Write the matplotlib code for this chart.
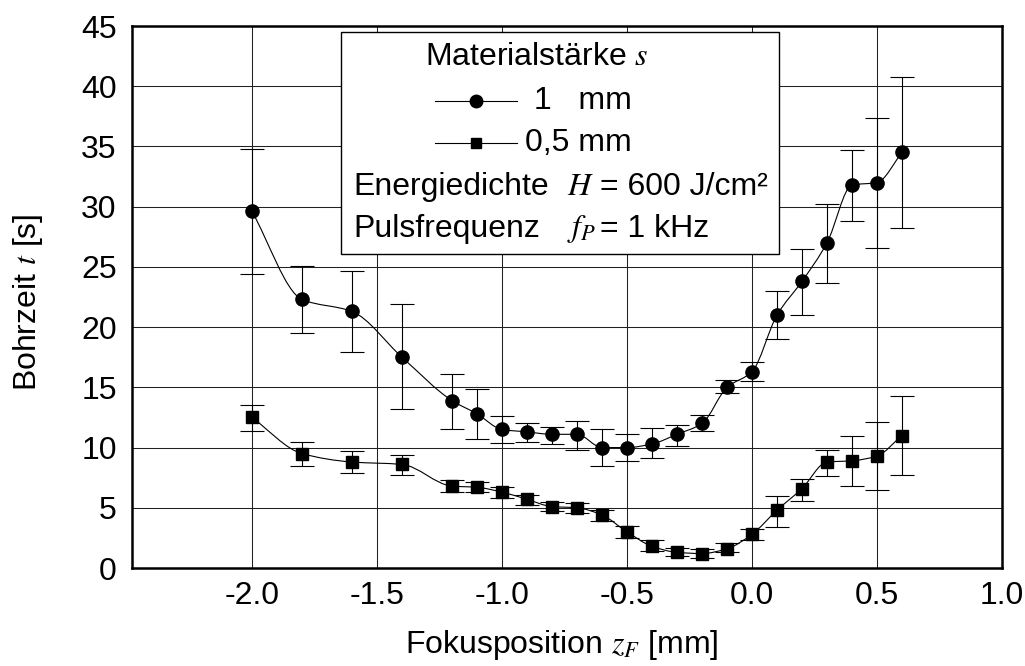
import matplotlib.pyplot as plt
import numpy as np
from matplotlib.lines import Line2D
from matplotlib.patches import PathPatch, Rectangle
from matplotlib.path import Path

plt.rcParams["font.family"] = ["Liberation Sans", "DejaVu Sans"]
plt.rcParams["mathtext.fontset"] = "stix"
plt.rcParams["axes.unicode_minus"] = False

# Focus position z_F [mm]
focus_pos = [-2.0, -1.8, -1.6, -1.4, -1.2, -1.1, -1.0, -0.9, -0.8, -0.7, -0.6, -0.5,
             -0.4, -0.3, -0.2, -0.1, 0.0, 0.1, 0.2, 0.3, 0.4, 0.5, 0.6]

# Drilling time t [s], 1 mm sheet, with upper / lower error bar ends.
t_1mm = [29.6, 22.3, 21.3, 17.5, 13.9, 12.8, 11.5, 11.3, 11.1, 11.1, 10.0, 10.0,
         10.3, 11.1, 12.0, 15.0, 16.3, 21.0, 23.8, 27.0, 31.8, 32.0, 34.5]
t_1mm_hi = [34.8, 25.1, 24.7, 21.9, 16.1, 14.9, 12.6, 12.0, 11.7, 12.2, 11.5, 11.1,
            11.6, 11.9, 12.7, 15.6, 17.1, 23.0, 26.5, 30.2, 34.7, 37.4, 40.8]
t_1mm_lo = [24.4, 19.5, 17.9, 13.2, 11.5, 10.7, 10.4, 10.5, 10.3, 9.8, 8.5, 8.9,
            9.1, 10.1, 11.4, 14.5, 15.5, 19.0, 21.0, 23.7, 28.8, 26.6, 28.2]

# Drilling time t [s], 0.5 mm sheet.
t_05mm = [12.5, 9.5, 8.8, 8.6, 6.8, 6.7, 6.3, 5.7, 5.1, 5.0, 4.4, 3.0,
          1.8, 1.3, 1.2, 1.6, 2.8, 4.8, 6.6, 8.8, 8.9, 9.3, 11.0]
t_05mm_hi = [13.5, 10.5, 9.7, 9.4, 7.3, 7.1, 6.7, 6.1, 5.5, 5.4, 4.8, 3.5,
             2.3, 1.7, 1.6, 2.1, 3.2, 6.0, 7.4, 9.8, 11.0, 12.1, 14.3]
t_05mm_lo = [11.4, 8.5, 7.9, 7.7, 6.3, 6.3, 5.8, 5.2, 4.7, 4.6, 3.9, 2.5,
             1.4, 1.0, 0.8, 1.3, 2.3, 3.4, 5.6, 7.6, 6.8, 6.5, 7.7]

x_ticks = [-2.0, -1.5, -1.0, -0.5, 0.0, 0.5, 1.0]
y_ticks = [0, 5, 10, 15, 20, 25, 30, 35, 40, 45]

# Figure size in pixels, positions below are given in pixels from top left.
W, H = 1025, 666
FS = 23


def fx(px):
    return px / W


def fy(py):
    return 1 - py / H


def smooth_path(x, y):
    # Smoothed line through the points: cubic Bezier segments with monotone
    # (Fritsch-Carlson) tangents, so the curve does not overshoot.
    x = np.asarray(x, dtype=float)
    y = np.asarray(y, dtype=float)
    h = np.diff(x)
    d = np.diff(y) / h
    m = np.empty_like(y)
    m[0], m[-1] = d[0], d[-1]
    for k in range(1, len(x) - 1):
        if d[k - 1] * d[k] <= 0:
            m[k] = 0.0
        else:
            w1 = 2 * h[k] + h[k - 1]
            w2 = h[k] + 2 * h[k - 1]
            m[k] = (w1 + w2) / (w1 / d[k - 1] + w2 / d[k])
    verts = [(x[0], y[0])]
    codes = [Path.MOVETO]
    for k in range(len(x) - 1):
        verts += [(x[k] + h[k] / 3, y[k] + m[k] * h[k] / 3),
                  (x[k + 1] - h[k] / 3, y[k + 1] - m[k + 1] * h[k] / 3),
                  (x[k + 1], y[k + 1])]
        codes += [Path.CURVE4] * 3
    return Path(verts, codes)


def draw_series(ax, t, t_hi, t_lo, marker, ms):
    t = np.array(t)
    yerr = [t - np.array(t_lo), np.array(t_hi) - t]
    ax.add_patch(PathPatch(smooth_path(focus_pos, t), fill=False, ec="black", lw=0.8, zorder=3))
    ax.errorbar(focus_pos, t, yerr=yerr, fmt="none", ecolor="black", elinewidth=0.8,
                capsize=8.5, capthick=0.8, zorder=3)
    ax.plot(focus_pos, t, ls="none", marker=marker, ms=ms, color="black", zorder=4)


fig = plt.figure(figsize=(W / 100, H / 100), dpi=100)
ax = fig.add_axes([fx(132), fy(568), (1002 - 132) / W, (568 - 26) / H])

ax.set_xlim(-2.48, 1.0)
ax.set_ylim(0, 45)
ax.set_xticks(x_ticks, labels=[f"{v:.1f}" for v in x_ticks], fontsize=FS)
ax.set_yticks(y_ticks, labels=[str(v) for v in y_ticks], fontsize=FS)
ax.tick_params(axis="both", length=0)
ax.tick_params(axis="x", pad=9)
ax.tick_params(axis="y", pad=11)
ax.grid(True, color="#202020", lw=0.75)
ax.set_axisbelow(True)
for sp in ax.spines.values():
    sp.set_linewidth(1.8)

draw_series(ax, t_1mm, t_1mm_hi, t_1mm_lo, "o", 9.5)
draw_series(ax, t_05mm, t_05mm_hi, t_05mm_lo, "s", 8.6)

# Axis titles.
fig.text(fx(28), fy(302), "Bohrzeit $t$ [s]", rotation=90, ha="center", va="center", fontsize=FS)
fig.text(fx(562), fy(645), "Fokusposition $z_F$ [mm]", ha="center", va="center", fontsize=FS)

# Legend / info box.
fig.add_artist(Rectangle((fx(341), fy(254)), (779 - 341) / W, (254 - 32) / H,
                         transform=fig.transFigure, fc="white", ec="black", lw=1.0, zorder=5))
fig.text(fx(537), fy(57), "Materialstärke $s$", ha="center", va="center", fontsize=FS, zorder=6)
for py, marker, ms, label in [(101, "o", 9.0, "1   mm"), (143, "s", 7.5, "0,5 mm")]:
    fig.add_artist(Line2D([fx(435), fx(517)], [fy(py), fy(py)], transform=fig.transFigure,
                          color="black", lw=0.8, zorder=6))
    fig.add_artist(Line2D([fx(476)], [fy(py)], transform=fig.transFigure, ls="none",
                          marker=marker, ms=ms, color="black", zorder=7))
    fig.text(fx(632), fy(py), label, ha="right", va="center", fontsize=FS, zorder=6)

for py, name, sym, value in [(187, "Energiedichte", "$H$", "= 600 J/cm²"),
                             (229, "Pulsfrequenz", "$f_P$", "= 1 kHz")]:
    fig.text(fx(353), fy(py), name, ha="left", va="center", fontsize=FS, zorder=6)
    fig.text(fx(567), fy(py), sym, ha="left", va="center", fontsize=FS, zorder=6)
    fig.text(fx(600), fy(py), value, ha="left", va="center", fontsize=FS, zorder=6)

fig.savefig("out.png", dpi=100)
